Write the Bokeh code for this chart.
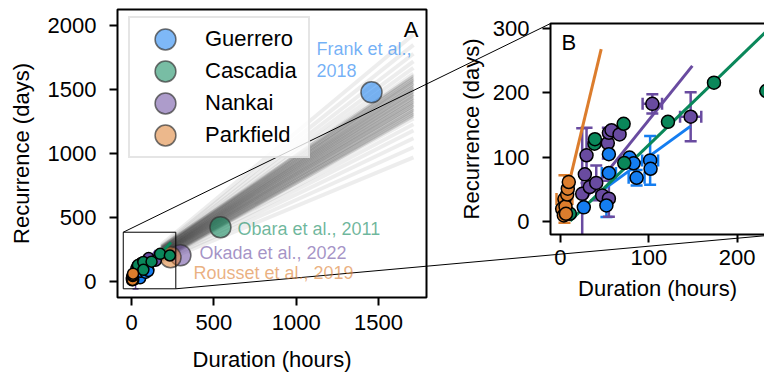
import math
from bokeh.plotting import figure
from bokeh.models import Range1d, LinearAxis, Label, FixedTicker
from bokeh.embed import file_html
from bokeh.resources import INLINE

FONT = "Liberation Sans"

# ---------------- data (duration in hours, recurrence in days) ----------------
guerrero_dur = [26.4, 52.0, 54.8, 54.8, 78.2, 82.8, 86.2, 101.5, 102.0]
guerrero_rec = [22.0, 25.0, 75.5, 104.7, 99.5, 90.6, 68.0, 95.0, 82.0]
guerrero_xerr = [0, 0, 8, 0, 0, 0, 9, 9, 0]
guerrero_yerr = [0, 18, 0, 0, 0, 0, 12, 38, 0]

nankai_dur = [24.6, 27.6, 29.5, 33.2, 40.5, 47.3, 53.6, 54.8, 54.8, 57.8, 66.9, 104.0, 147.4]
nankai_rec = [43.0, 73.4, 103.0, 53.6, 60.0, 40.6, 122.0, 138.0, 35.5, 142.0, 135.5, 183.0, 163.0]
nankai_xerr = [0, 0, 0, 0, 0, 0, 0, 0, 0, 0, 0, 11, 12]
nankai_yerr = [102, 0, 43, 0, 27, 0, 24, 0, 28, 0, 0, 15, 38]

cascadia_dur = [10.6, 38.5, 39.0, 71.5, 72.2, 121.7, 173.8, 233.0]
cascadia_rec = [12.0, 121.0, 128.0, 152.0, 91.0, 155.0, 216.0, 203.0]
cascadia_xerr = [0, 0, 0, 0, 0, 0, 0, 0]
cascadia_yerr = [0, 0, 0, 0, 0, 0, 0, 0]

parkfield_dur = [1.9, 3.8, 4.5, 5.7, 6.2, 7.6, 8.3, 9.4]
parkfield_rec = [19.8, 9.4, 35.0, 23.4, 12.0, 42.0, 51.0, 61.4]
parkfield_xerr = [0, 0, 9, 0, 0, 0, 0, 0]
parkfield_yerr = [0, 0, 37, 0, 0, 0, 0, 0]

# regional scaling fits (end points)
guerrero_fit_dur = [40.0, 147.0]
guerrero_fit_rec = [41.0, 148.0]
nankai_fit_dur = [24.6, 149.3]
nankai_fit_rec = [29.0, 242.0]
cascadia_fit_dur = [11.0, 240.0]
cascadia_fit_rec = [1.0, 305.0]
parkfield_fit_dur = [1.9, 46.1]
parkfield_fit_rec = [15.0, 268.0]

# literature values (panel A)
lit_region = ["Guerrero", "Cascadia", "Nankai", "Parkfield"]
lit_source = [["Frank et al.,", "2018"], ["Obara et al., 2011"], ["Okada et al., 2022"], ["Rousset et al., 2019"]]
lit_dur = [1457, 540, 297, 237]
lit_rec = [1478, 424, 205, 190]

# posterior sample lines of the global scaling: recurrence at both ends of each line
fan_dur = [180, 1712]
# broad samples
fan_wide_start = [152, 163, 173, 181, 188, 195, 200, 205, 209, 213, 217,
                  221, 225, 229, 233, 238, 244, 250, 257, 265, 275, 286]
fan_wide_end = [969, 1049, 1119, 1179, 1229, 1274, 1314, 1349, 1379, 1409, 1434,
                1464, 1489, 1519, 1549, 1584, 1624, 1669, 1719, 1779, 1849, 1929]
# dense central samples
fan_core_start = [163, 169, 174, 180, 185, 191, 197, 202, 208, 213, 219,
                  225, 230, 236, 241, 247, 253, 258, 264, 269, 275]
fan_core_end = [1291, 1306, 1323, 1338, 1354, 1371, 1386, 1401, 1417, 1434, 1449,
                1464, 1481, 1497, 1512, 1527, 1544, 1560, 1575, 1592, 1607]

# inset region marked in panel A
inset_dur = [-50, 269]
inset_rec = [-57, 385]

xticks_A = [0, 500, 1000, 1500]
yticks_A = [0, 500, 1000, 1500, 2000]
xticks_B = [0, 100, 200]
yticks_B = [0, 100, 200, 300]

COL = {"Guerrero": "#147df0", "Cascadia": "#0a875a", "Nankai": "#694ba0", "Parkfield": "#dc7d2d"}

series = {
    "Guerrero": (guerrero_dur, guerrero_rec, guerrero_xerr, guerrero_yerr, guerrero_fit_dur, guerrero_fit_rec),
    "Cascadia": (cascadia_dur, cascadia_rec, cascadia_xerr, cascadia_yerr, cascadia_fit_dur, cascadia_fit_rec),
    "Nankai": (nankai_dur, nankai_rec, nankai_xerr, nankai_yerr, nankai_fit_dur, nankai_fit_rec),
    "Parkfield": (parkfield_dur, parkfield_rec, parkfield_xerr, parkfield_yerr, parkfield_fit_dur, parkfield_fit_rec),
}
marker_order = ["Nankai", "Guerrero", "Cascadia", "Parkfield"]

# ---------------- layout geometry (pixels, y downwards) ----------------
W, H = 764, 375
A_L, A_R, A_T, A_B = 117, 426, 9, 297          # panel A frame
B_L, B_R, B_T, B_B = 550, 764, 23, 234          # visible part of panel B frame
XA = (-85.0, 1791.0)
YA = (-125.0, 2125.0)
XB = (-11.3, 231.0)
YB = (-20.2, 308.0)
XB_FULL_END = 247.0                             # B frame continues past the window edge


def xa_at(px):
    return XA[0] + (px - A_L) / (A_R - A_L) * (XA[1] - XA[0])


def ya_at(py):
    return YA[0] + (A_B - py) / (A_B - A_T) * (YA[1] - YA[0])


def xb_at(px):
    return XB[0] + (px - B_L) / (B_R - B_L) * (XB[1] - XB[0])


def yb_at(py):
    return YB[0] + (B_B - py) / (B_B - B_T) * (YB[1] - YB[0])


def a_px(x, y):
    return (A_L + (x - XA[0]) / (XA[1] - XA[0]) * (A_R - A_L),
            A_B - (y - YA[0]) / (YA[1] - YA[0]) * (A_B - A_T))


def b_px(x, y):
    return (B_L + (x - XB[0]) / (XB[1] - XB[0]) * (B_R - B_L),
            B_B - (y - YB[0]) / (YB[1] - YB[0]) * (B_B - B_T))


# one canvas; default ranges are page pixels, the two panels use extra ranges
p = figure(width=W, height=H, x_range=Range1d(0, W), y_range=Range1d(H, 0),
           x_axis_type=None, y_axis_type=None, min_border=0, title=None,
           output_backend="svg", toolbar_location=None)
p.outline_line_color = None
p.background_fill_color = "white"
p.border_fill_color = "white"
p.extra_x_ranges = {"ax": Range1d(xa_at(0), xa_at(W)), "bx": Range1d(xb_at(0), xb_at(W))}
p.extra_y_ranges = {"ay": Range1d(ya_at(H), ya_at(0)), "by": Range1d(yb_at(H), yb_at(0))}
PA = dict(x_range_name="ax", y_range_name="ay")
PB = dict(x_range_name="bx", y_range_name="by")


def style_axis(ax, label_standoff, tick_standoff):
    ax.axis_line_color = None
    ax.major_tick_line_width = 2
    ax.major_tick_line_color = "black"
    ax.major_tick_out = 8
    ax.major_tick_in = 0
    ax.minor_tick_line_color = None
    ax.major_label_text_font = FONT
    ax.major_label_text_font_size = "22px"
    ax.major_label_text_color = "black"
    ax.axis_label_text_font = FONT
    ax.axis_label_text_font_size = "22px"
    ax.axis_label_text_font_style = "normal"
    ax.axis_label_text_color = "black"
    ax.major_label_standoff = tick_standoff
    ax.axis_label_standoff = label_standoff


def add_axis(side, names, ticks, label, loc, bounds, label_standoff, tick_standoff):
    ax = LinearAxis(x_range_name=names["x_range_name"], y_range_name=names["y_range_name"],
                    ticker=FixedTicker(ticks=ticks), axis_label=label, fixed_location=loc, bounds=bounds)
    style_axis(ax, label_standoff, tick_standoff)
    p.add_layout(ax, side)


def draw_errorbars(xs, ys, xerr, yerr, color, cap, lw, names, ylim=None):
    x0, y0, x1, y1 = [], [], [], []
    cx, cy, ca = [], [], []
    for x, y, ex, ey in zip(xs, ys, xerr, yerr):
        if ey:
            lo, hi = y - ey, y + ey
            lo_c = lo if ylim is None else max(lo, ylim[0])
            hi_c = hi if ylim is None else min(hi, ylim[1])
            x0.append(x); y0.append(lo_c); x1.append(x); y1.append(hi_c)
            for v in (lo, hi):
                if ylim is None or ylim[0] <= v <= ylim[1]:
                    cx.append(x); cy.append(v); ca.append(0.0)
        if ex:
            x0.append(x - ex); y0.append(y); x1.append(x + ex); y1.append(y)
            cx += [x - ex, x + ex]; cy += [y, y]; ca += [math.pi / 2, math.pi / 2]
    if x0:
        p.segment(x0, y0, x1, y1, line_color=color, line_width=lw, **names)
    if cx:
        p.scatter(cx, cy, marker="dash", size=cap, angle=ca, line_color=color, line_width=lw, **names)


def draw_regional(names, msize, cap, lw_err, lw_fit, fits, ylim=None):
    for name in ["Guerrero", "Cascadia", "Nankai", "Parkfield"]:
        d, r, xe, ye, fd, fr = series[name]
        draw_errorbars(d, r, xe, ye, COL[name], cap, lw_err, names, ylim)
    for name in fits:
        d, r, xe, ye, fd, fr = series[name]
        p.line(fd, fr, line_color=COL[name], line_width=lw_fit, **names)
    for name in marker_order:
        d, r, xe, ye, fd, fr = series[name]
        p.scatter(d, r, size=msize, fill_color=COL[name], line_color="black", line_width=1.5, **names)


# ---------------- panel A ----------------
p.multi_line(xs=[fan_dur for _ in fan_wide_end], ys=[[s, e] for s, e in zip(fan_wide_start, fan_wide_end)],
             line_color="black", line_alpha=0.07, line_width=4, **PA)
p.multi_line(xs=[fan_dur for _ in fan_core_end], ys=[[s, e] for s, e in zip(fan_core_start, fan_core_end)],
             line_color="black", line_alpha=0.14, line_width=3, **PA)

for i, name in enumerate(lit_region):
    p.ellipse([lit_dur[i]], [lit_rec[i]], width=21, height=21, width_units="screen", height_units="screen",
              fill_color=COL[name], fill_alpha=0.55, line_color="#333333", line_alpha=0.7, line_width=1.5,
              legend_label=name, **PA)

draw_regional(PA, 11, 6, 1.5, 3, ["Guerrero", "Nankai", "Cascadia"])

p.quad(left=inset_dur[0], right=inset_dur[1], bottom=inset_rec[0], top=inset_rec[1],
       fill_color=None, line_color="black", line_width=1, **PA)
p.quad(left=XA[0], right=XA[1], bottom=YA[0], top=YA[1],
       fill_color=None, line_color="black", line_width=2, **PA)

add_axis("below", PA, xticks_A, "Duration (hours)", YA[0], XA, 14, 9)
add_axis("left", PA, yticks_A, "Recurrence (days)", XA[0], YA, 11, 13)

lit_label_px = [[(316, 48), (316, 70)], [(237, 228)], [(199, 252)], [(193, 272)]]
for name, lines, pos in zip(lit_region, lit_source, lit_label_px):
    for txt, (lx, ly) in zip(lines, pos):
        p.add_layout(Label(x=lx, y=ly, text=txt, text_font=FONT, text_font_size="18px",
                           text_color=COL[name], text_alpha=0.6, text_baseline="middle", text_align="left"))

p.add_layout(Label(x=418, y=29, text="A", text_font=FONT, text_font_size="22px", text_color="black",
                   text_align="right", text_baseline="middle"))

# ---------------- panel B ----------------
draw_regional(PB, 13, 12, 2.5, 3, ["Guerrero", "Cascadia", "Nankai", "Parkfield"], ylim=YB)
p.quad(left=XB[0], right=XB_FULL_END, bottom=YB[0], top=YB[1],
       fill_color=None, line_color="black", line_width=2, **PB)
add_axis("below", PB, xticks_B, "Duration (hours)", YB[0], (XB[0], XB_FULL_END), 8, 7)
add_axis("left", PB, yticks_B, "Recurrence (days)", XB[0], YB, 6, 13)

p.add_layout(Label(x=561, y=42, text="B", text_font=FONT, text_font_size="22px", text_color="black",
                   text_align="left", text_baseline="middle"))

# ---------------- zoom connectors (page pixels) ----------------
P1 = a_px(inset_dur[0], inset_rec[1])
P2 = a_px(inset_dur[1], inset_rec[0])
Q1 = b_px(XB[0], YB[1])
Q2 = b_px(XB_FULL_END, YB[0])
p.segment(x0=[P1[0], P2[0]], y0=[P1[1], P2[1]], x1=[Q1[0], Q2[0]], y1=[Q1[1], Q2[1]],
          line_color="black", line_width=1)

# ---------------- legend ----------------
leg = p.legend[0]
leg.location = (128, H - 158)
leg.padding = 8
leg.spacing = 6
leg.glyph_height = 26
leg.glyph_width = 54
leg.label_height = 26
leg.label_standoff = 13
leg.label_width = 95
leg.label_text_font = FONT
leg.label_text_font_size = "22px"
leg.label_text_color = "black"
leg.border_line_color = "#cccccc"
leg.border_line_width = 2
leg.background_fill_alpha = 0.8

open("out.html", "w").write(file_html(p, INLINE, title="Recurrence vs duration"))
